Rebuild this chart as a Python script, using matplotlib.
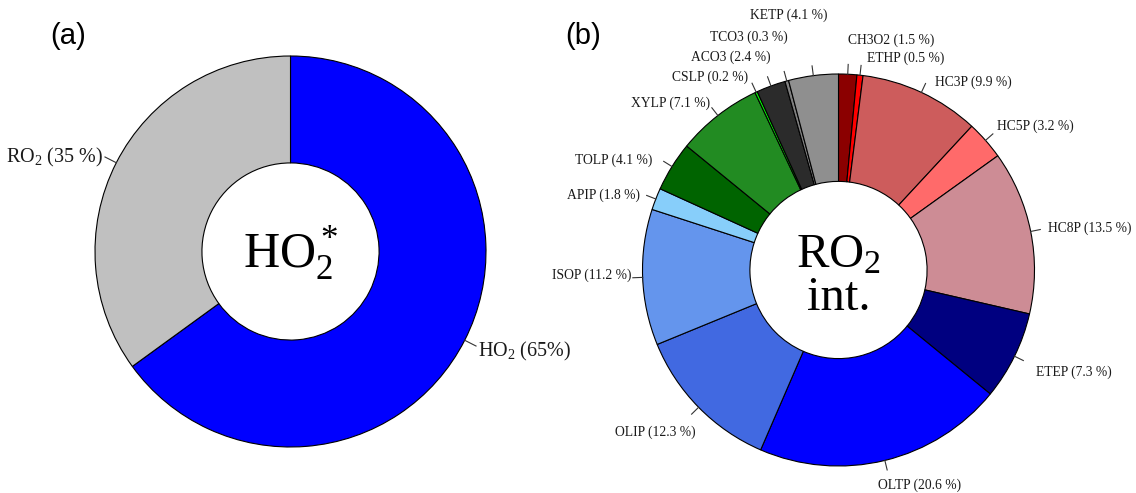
import numpy as np
import matplotlib
matplotlib.use("Agg")
import matplotlib.pyplot as plt

plt.rcParams["font.family"] = ["Liberation Serif", "DejaVu Serif"]
plt.rcParams["mathtext.fontset"] = "custom"
plt.rcParams["mathtext.rm"] = "Liberation Serif"
plt.rcParams["mathtext.it"] = "Liberation Serif:italic"
plt.rcParams["mathtext.default"] = "regular"

# panel (a): HO2* split
ho2_labels = ["HO$_2$ (65%)", "RO$_2$ (35 %)"]
ho2_share = [65, 35]
ho2_colors = ["#0000ff", "#c0c0c0"]

# panel (b): RO2 intermediates, clockwise from 12 o'clock
ro2_species = ["CH3O2", "ETHP", "HC3P", "HC5P", "HC8P", "ETEP", "OLTP", "OLIP",
               "ISOP", "APIP", "TOLP", "XYLP", "CSLP", "ACO3", "TCO3", "KETP"]
ro2_share = [1.5, 0.5, 9.9, 3.2, 13.5, 7.3, 20.6, 12.3,
             11.2, 1.8, 4.1, 7.1, 0.2, 2.4, 0.3, 4.1]
ro2_colors = ["#8b0000", "#ff0000", "#cd5c5c", "#ff6a6a", "#cd8c95", "#000080",
              "#0000ff", "#4169e1", "#6495ed", "#87cefa", "#006400", "#228b22",
              "#00ff00", "#2b2b2b", "#808080", "#8f8f8f"]

# where each label text sits (axes data units, radius = 1) and its alignment
ho2_text_pos = [(0.96, -0.51, "left"), (-0.96, 0.48, "right")]
ro2_text_pos = [
    (0.05, 1.17, "left"), (0.145, 1.08, "left"), (0.49, 0.96, "left"),
    (0.81, 0.735, "left"), (1.07, 0.214, "left"), (1.01, -0.52, "left"),
    (0.20, -1.10, "left"), (-0.73, -0.83, "right"), (-1.055, -0.026, "right"),
    (-1.013, 0.383, "right"), (-0.952, 0.561, "right"), (-0.656, 0.852, "right"),
    (-0.462, 0.985, "right"), (-0.345, 1.087, "right"), (-0.258, 1.189, "right"),
    (-0.054, 1.30, "right"),
]


def donut(ax, values, colors, labels, text_pos, hole, fontsize, tick=(1.0, 1.06)):
    wedges, _ = ax.pie(values, colors=colors, startangle=90, counterclock=False,
                       radius=1.0,
                       wedgeprops={"width": 1.0 - hole, "edgecolor": "black",
                                   "linewidth": 0.8})
    for w, lab, (tx, ty, ha) in zip(wedges, labels, text_pos):
        ang = np.deg2rad((w.theta1 + w.theta2) / 2)
        r0, r1 = tick
        ax.plot([r0 * np.cos(ang), r1 * np.cos(ang)],
                [r0 * np.sin(ang), r1 * np.sin(ang)],
                color="#333333", lw=0.8, clip_on=False)
        ax.text(tx, ty, lab, ha=ha, va="center", fontsize=fontsize,
                color="#1a1a1a")
    ax.set_xlim(-1, 1)
    ax.set_ylim(-1, 1)
    ax.axis("off")


W, H = 1136, 493
fig = plt.figure(figsize=(W / 100, H / 100), dpi=100)

ax_a = fig.add_axes([95 / W, 46 / H, 391 / W, 391 / H])
donut(ax_a, ho2_share, ho2_colors, ho2_labels, ho2_text_pos, hole=0.453,
      fontsize=14.5, tick=(1.0, 1.065))
ax_a.text(0, -0.09, "HO$_2^*$", ha="center", va="baseline", fontsize=36)

ax_b = fig.add_axes([642.5 / W, 27 / H, 392 / W, 392 / H])
ro2_labels = [f"{n} ({v} %)" for n, v in zip(ro2_species, ro2_share)]
donut(ax_b, ro2_share, ro2_colors, ro2_labels, ro2_text_pos, hole=0.452,
      fontsize=9.8, tick=(1.0, 1.05))
ax_b.text(0, 0.015, "RO$_2$", ha="center", va="baseline", fontsize=35)
ax_b.text(0, -0.204, "int.", ha="center", va="baseline", fontsize=35)

fig.text(68 / W, 1 - 36 / H, "(a)", ha="center", va="center",
         fontsize=21, family="Liberation Sans")
fig.text(583 / W, 1 - 36 / H, "(b)", ha="center", va="center",
         fontsize=21, family="Liberation Sans")

fig.savefig("out.png", dpi=100, facecolor="white")
